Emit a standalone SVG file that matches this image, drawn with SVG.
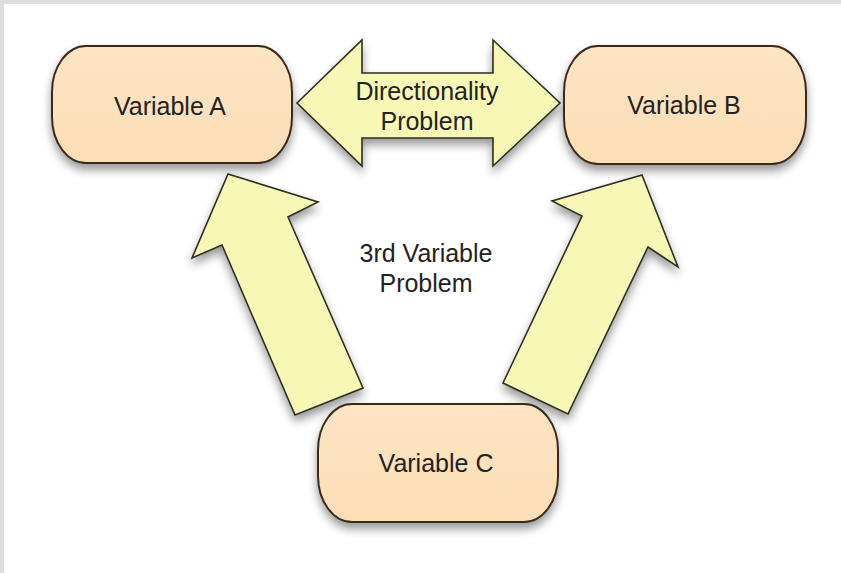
<svg xmlns="http://www.w3.org/2000/svg" width="841" height="573" viewBox="0 0 841 573">
  <defs>
    <filter id="shadow" x="-20%" y="-20%" width="140%" height="150%">
      <feDropShadow dx="0" dy="6" stdDeviation="5" flood-color="#000" flood-opacity="0.4"/>
    </filter>
    <linearGradient id="nodeFill" x1="0" y1="0" x2="0" y2="1">
      <stop offset="0" stop-color="#fde4c4"/>
      <stop offset="1" stop-color="#fcdeb6"/>
    </linearGradient>
    <style>
      .node { fill: url(#nodeFill); stroke: #3b2a1c; stroke-width: 2; filter: url(#shadow); }
      .arrow { fill: #f8f8b6; stroke: #2e2e22; stroke-width: 1.6; stroke-linejoin: miter; filter: url(#shadow); }
      .label { font-family: "Liberation Sans", Arial, sans-serif; font-size: 25px; fill: #222222; text-anchor: middle; }
    </style>
  </defs>

  <!-- page background with thin grey frame on the top and left -->
  <rect x="0" y="0" width="841" height="573" fill="#dcdcdc"/>
  <rect x="4" y="4" width="837" height="569" fill="#ffffff"/>

  <!-- connectors: block arrows -->
  <g id="connectors">
    <!-- two-headed arrow between A and B -->
    <polygon class="arrow" points="297,103 362,40 362,73 493,73 493,40 560,103 493,166 493,138 362,138 362,166"/>
    <!-- C up to A -->
    <polygon class="arrow" points="228,174 318,202 288,217 363,388 295,415 222,245 192,258"/>
    <!-- C up to B -->
    <polygon class="arrow" points="642,175 678,267 648,247 568,414 503,383 582,216 552,201"/>
    <text class="label" x="427" y="100">Directionality</text>
    <text class="label" x="427" y="130">Problem</text>
  </g>

  <g id="label-3rd">
    <text class="label" x="426" y="262">3rd Variable</text>
    <text class="label" x="426" y="292">Problem</text>
  </g>

  <g id="node-a">
    <rect class="node" x="52" y="46" width="240" height="117" rx="34" ry="46"/>
    <text class="label" x="170" y="115">Variable A</text>
  </g>

  <g id="node-b">
    <rect class="node" x="564" y="46" width="242" height="118" rx="34" ry="46"/>
    <text class="label" x="684" y="114">Variable B</text>
  </g>

  <g id="node-c">
    <rect class="node" x="318" y="404" width="240" height="118" rx="34" ry="46"/>
    <text class="label" x="436" y="472">Variable C</text>
  </g>
</svg>
